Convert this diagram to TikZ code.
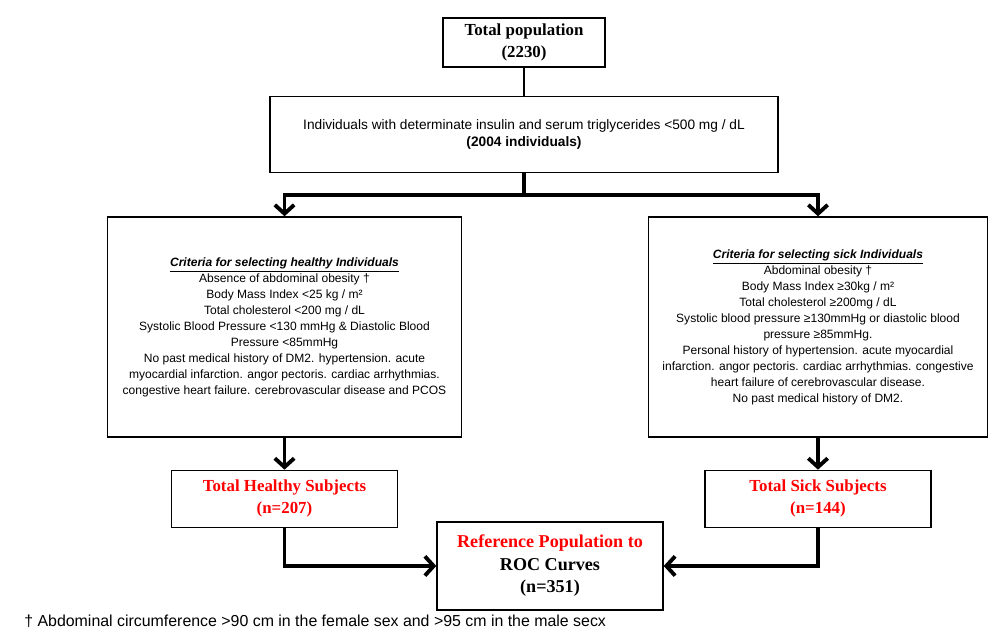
\documentclass[tikz,border=0pt]{standalone}
\usepackage{fontspec}
\setmainfont{Liberation Sans}
\newfontfamily\timesfont{Liberation Serif}
\usepackage{tikz}
\usetikzlibrary{arrows.meta,positioning,calc}

\begin{document}
\begin{tikzpicture}[
  arr/.style={-{Straight Barb[length=5pt,width=11pt]}, line width=2.2pt},
  link/.style={line width=0.6pt},
  block/.style={rectangle, draw, line width=0.8pt, align=center, inner sep=2pt},
  crit/.style={block, minimum height=4.4cm, font=\fontsize{6.85}{9.1}\selectfont},
  group/.style={block, minimum width=4.52cm, minimum height=1.14cm, text=red,
                font=\timesfont\bfseries\fontsize{9.6}{12.5}\selectfont},
]
\useasboundingbox (0,0) rectangle (20,12.74);

\node[block, minimum width=3.24cm, minimum height=0.98cm,
      font=\timesfont\bfseries\fontsize{9.6}{12}\selectfont] (total) at (10.48,11.89)
  {Total population\\(2230)};
\node[block, below=0.56cm of total, minimum width=10.16cm, minimum height=1.52cm,
      font=\fontsize{7.8}{9.2}\selectfont] (indiv)
  {Individuals with determinate insulin and serum triglycerides <500 mg / dL\\
   \textbf{(2004 individuals)}};

% Criteria
\node[crit, minimum width=7.08cm] (healthcrit) at (5.69,6.2)
  {\underline{\textbf{\textit{Criteria for selecting healthy Individuals}}}\\
   Absence of abdominal obesity †\\
   Body Mass Index <25 kg / m²\\
   Total cholesterol <200 mg / dL\\
   Systolic Blood Pressure <130 mmHg \& Diastolic Blood\\
   Pressure <85mmHg\\
   No past medical history of DM2. hypertension. acute\\
   myocardial infarction. angor pectoris. cardiac arrhythmias.\\
   congestive heart failure. cerebrovascular disease and PCOS};
\node[crit, minimum width=6.78cm] (sickcrit) at (16.36,6.2)
  {\underline{\textbf{\textit{Criteria for selecting sick Individuals}}}\\
   Abdominal obesity †\\
   Body Mass Index ≥30kg / m²\\
   Total cholesterol ≥200mg / dL\\
   Systolic blood pressure ≥130mmHg or diastolic blood\\
   pressure ≥85mmHg.\\
   Personal history of hypertension. acute myocardial\\
   infarction. angor pectoris. cardiac arrhythmias. congestive\\
   heart failure of cerebrovascular disease.\\
   No past medical history of DM2.};

% Groups
\node[group, below=0.64cm of healthcrit] (healthy) {Total Healthy Subjects\\(n=207)};
\node[group, below=0.64cm of sickcrit] (sick) {Total Sick Subjects\\(n=144)};
\node[block, minimum width=4.52cm, minimum height=1.76cm,
      font=\timesfont\bfseries\fontsize{10.3}{12.8}\selectfont] (roc) at (11.0,1.42)
  {\textcolor{red}{Reference Population to}\\ROC Curves\\(n=351)};

% Connectors
\draw[link] (total) -- (indiv);
\coordinate (split) at ([yshift=-0.44cm]indiv.south);
\draw[line width=2.2pt] (indiv.south) -- (split);
\draw[arr] (split) -| (healthcrit.north);
\draw[arr] (split) -| (sickcrit.north);
\draw[arr] (healthcrit) -- (healthy);
\draw[arr] (sickcrit) -- (sick);
\draw[arr] (healthy.south) |- (roc.west);
\draw[arr] (sick.south) |- (roc.east);

% Footnote
\node[anchor=west, inner sep=0pt, font=\fontsize{9.05}{10}\selectfont] (foot) at (0.48,0.32)
  {† Abdominal circumference >90 cm in the female sex and >95 cm in the male secx};
\end{tikzpicture}
\end{document}
